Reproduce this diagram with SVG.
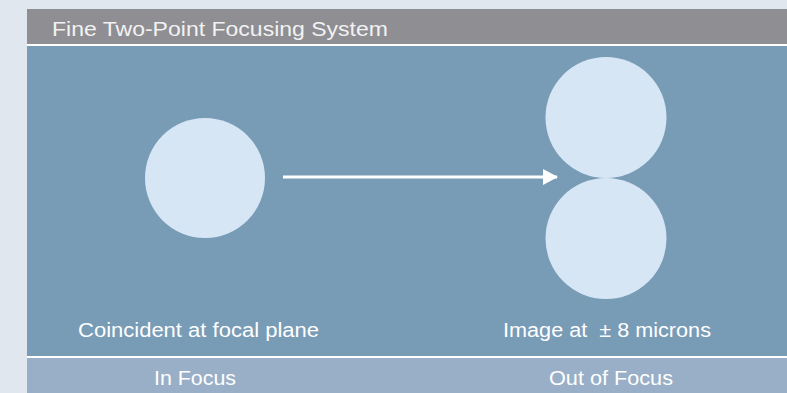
<svg xmlns="http://www.w3.org/2000/svg" width="787" height="393" viewBox="0 0 787 393">
<defs>
<style>
.lbl{font-family:"Liberation Sans",Arial,sans-serif;fill:#ffffff;font-size:20px}
.ttl{font-family:"Liberation Sans",Arial,sans-serif;fill:#f2f2f2;font-size:20px}
.spot{fill:#d6e6f5}
</style>
<marker id="ah" viewBox="0 0 16 16" refX="14" refY="8" markerWidth="16" markerHeight="16" markerUnits="userSpaceOnUse" orient="auto">
<path d="M0,0 L15,8 L0,16 Z" fill="#ffffff"/>
</marker>
</defs>
<rect x="0" y="0" width="787" height="393" fill="#e0e7ef"/>
<rect x="27" y="9" width="760" height="35" fill="#8f8e93"/>
<rect x="27" y="44" width="760" height="2" fill="#ffffff"/>
<rect x="27" y="46" width="760" height="310" fill="#789bb6"/>
<rect x="27" y="356" width="760" height="2" fill="#ffffff"/>
<rect x="27" y="358" width="760" height="35" fill="#98afc7"/>
<text class="ttl" x="52" y="36" textLength="336" lengthAdjust="spacingAndGlyphs">Fine Two-Point Focusing System</text>
<g id="in-focus">
<circle class="spot" cx="205" cy="178" r="60"/>
<text class="lbl" x="78" y="337" textLength="241" lengthAdjust="spacingAndGlyphs">Coincident at focal plane</text>
</g>
<g id="out-of-focus">
<circle class="spot" cx="606" cy="117.5" r="60.5"/>
<circle class="spot" cx="606" cy="238.5" r="60.5"/>
<text class="lbl" x="503" y="337" textLength="208" lengthAdjust="spacingAndGlyphs" xml:space="preserve">Image at  ± 8 microns</text>
</g>
<g id="connectors">
<line x1="283" y1="177" x2="557" y2="177" stroke="#ffffff" stroke-width="3" marker-end="url(#ah)"/>
</g>
<g id="footer">
<text class="lbl" x="154" y="385" textLength="82" lengthAdjust="spacingAndGlyphs">In Focus</text>
<text class="lbl" x="549" y="385" textLength="124" lengthAdjust="spacingAndGlyphs">Out of Focus</text>
</g>
</svg>
